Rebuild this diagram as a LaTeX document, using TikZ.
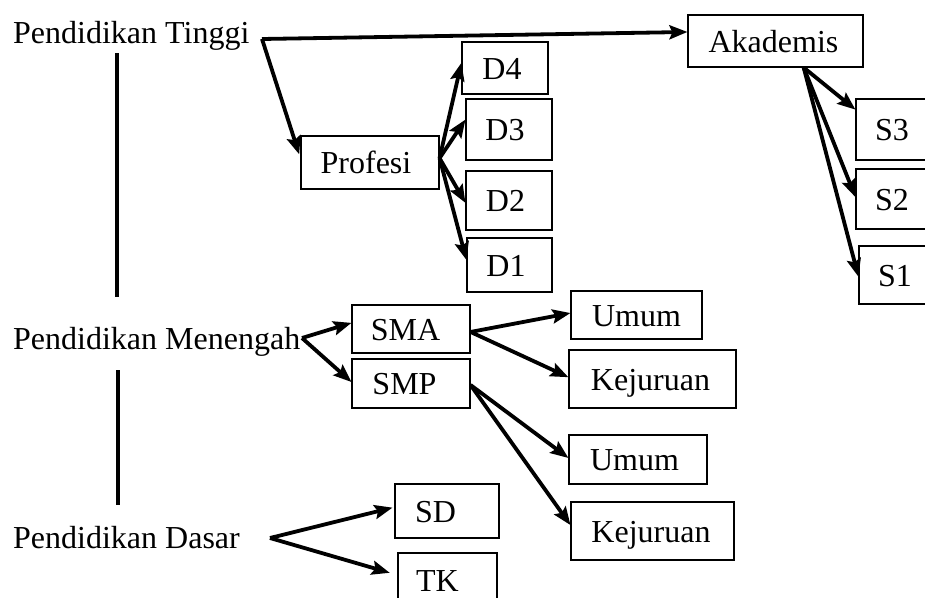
\documentclass[tikz,border=0pt]{standalone}
\usepackage{fontspec}
\setmainfont{Liberation Serif}
\usetikzlibrary{arrows.meta,calc}

\tikzset{
  box/.style={draw, line width=1.1pt, inner sep=0pt, text height=24pt, text depth=2pt,
              font=\fontsize{32}{38}\selectfont},
  lvl/.style={inner sep=0pt, anchor=base west, font=\fontsize{32}{38}\selectfont},
  arr/.style={line width=3.8pt, -{Stealth[length=18pt,width=14pt,inset=3pt]}},
  rail/.style={line width=3.8pt},
}
% trailing pad that moves a box's text to the left
\newcommand\padr[1]{\kern#1\relax}

\begin{document}
\begin{tikzpicture}[x=1pt, y=-1pt]
  \clip (0,0) rectangle (925,597);
  \fill[white] (0,0) rectangle (925,597);

  % level labels
  \node[lvl] (pt) at (13,43)  {Pendidikan Tinggi};
  \node[lvl] (pm) at (13,349) {Pendidikan Menengah};
  \node[lvl] (pd) at (13,548) {Pendidikan Dasar};

  % vertical rails between the levels
  \coordinate (r1a) at (117,53);  \coordinate (r1b) at (117,297);
  \coordinate (r2a) at (118,370); \coordinate (r2b) at (118,505);
  \draw[rail] (r1a) -- (r1b);
  \draw[rail] (r2a) -- (r2b);

  % higher education
  \node[box, minimum width=138pt, minimum height=53pt] (profesi)  at (370,162.5) {Profesi\padr{8pt}};
  \node[box, minimum width=86pt,  minimum height=52pt] (d4)       at (505,68)    {D4\padr{6pt}};
  \node[box, minimum width=86pt,  minimum height=61pt] (d3)       at (509,129.5) {D3\padr{8pt}};
  \node[box, minimum width=86pt,  minimum height=59pt] (d2)       at (509,200.5) {D2\padr{7pt}};
  \node[box, minimum width=85pt,  minimum height=54pt] (d1)       at (509.5,265) {D1\padr{7pt}};
  \node[box, minimum width=175pt, minimum height=52pt] (akademis) at (775.5,41)  {Akademis\padr{4pt}};
  \node[box, minimum width=72pt,  minimum height=61pt] (s3)       at (892,129.5) {S3};
  \node[box, minimum width=72pt,  minimum height=60pt] (s2)       at (892,199)   {S2};
  \node[box, minimum width=72pt,  minimum height=58pt] (s1)       at (895,275)   {S1};

  % secondary education
  \node[box, minimum width=118pt, minimum height=48pt] (sma)    at (411,329)    {SMA\padr{11pt}};
  \node[box, minimum width=118pt, minimum height=49pt] (smp)    at (411,383.5)  {SMP\padr{13pt}};
  \node[box, minimum width=131pt, minimum height=48pt] (umum1)  at (636.5,315)  {Umum};
  \node[box, minimum width=167pt, minimum height=58pt] (kej1)   at (652.5,379)  {Kejuruan\padr{4pt}};
  \node[box, minimum width=138pt, minimum height=49pt] (umum2)  at (638,459.5)  {Umum\padr{7pt}};
  \node[box, minimum width=163pt, minimum height=58pt] (kej2)   at (652.5,531)  {Kejuruan\padr{3pt}};

  % basic education
  \node[box, minimum width=104pt, minimum height=54pt] (sd) at (447,511)   {SD\padr{23pt}};
  \node[box, minimum width=99pt,  minimum height=54pt] (tk) at (447.5,580) {TK\padr{20pt}};

  % branching points
  \coordinate (ptout) at (262,39);
  \coordinate (pmout) at (302,338);
  \coordinate (pdout) at (270,538);
  \coordinate (profout) at ($(profesi.north east)!0.42!(profesi.south east)$);
  \coordinate (akout)   at ($(akademis.south west)!0.66!(akademis.south east)$);
  \coordinate (smaout)  at ($(sma.north east)!0.56!(sma.south east)$);
  \coordinate (smpout)  at ($(smp.north east)!0.53!(smp.south east)$);

  % connectors
  \draw[arr] (ptout) -- ($(akademis.north west)!0.33!(akademis.south west)$);
  \draw[arr, shorten >=4pt] (ptout) -- ($(profesi.north west)!0.42!(profesi.south west)$);

  \draw[arr] (profout) -- ($(d4.north west)!0.40!(d4.south west)$);
  \draw[arr] (profout) -- ($(d3.north west)!0.34!(d3.south west)$);
  \draw[arr] (profout) -- ($(d2.north west)!0.54!(d2.south west)$);
  \draw[arr] (profout) -- ($(d1.north west)!0.41!(d1.south west)$);

  \draw[arr] (akout) -- ($(s3.north west)!0.18!(s3.south west)$);
  \draw[arr] (akout) -- ($(s2.north west)!0.47!(s2.south west)$);
  \draw[arr] (akout) -- ($(s1.north west)!0.53!(s1.south west)$);

  \draw[arr] (pmout) -- ($(sma.north west)!0.375!(sma.south west)$);
  \draw[arr] (pmout) -- ($(smp.north west)!0.47!(smp.south west)$);

  \draw[arr] (smaout) -- ($(umum1.north west)!0.46!(umum1.south west)$);
  \draw[arr] (smaout) -- ($(kej1.north west)!0.47!(kej1.south west)$);
  \draw[arr] (smpout) -- ($(umum2.north west)!0.47!(umum2.south west)$);
  \draw[arr] (smpout) -- ($(kej2.north west)!0.40!(kej2.south west)$);

  \draw[arr, shorten >=2pt] (pdout) -- ($(sd.north west)!0.43!(sd.south west)$);
  \draw[arr, shorten >=8pt] (pdout) -- ($(tk.north west)!0.41!(tk.south west)$);
\end{tikzpicture}
\end{document}
